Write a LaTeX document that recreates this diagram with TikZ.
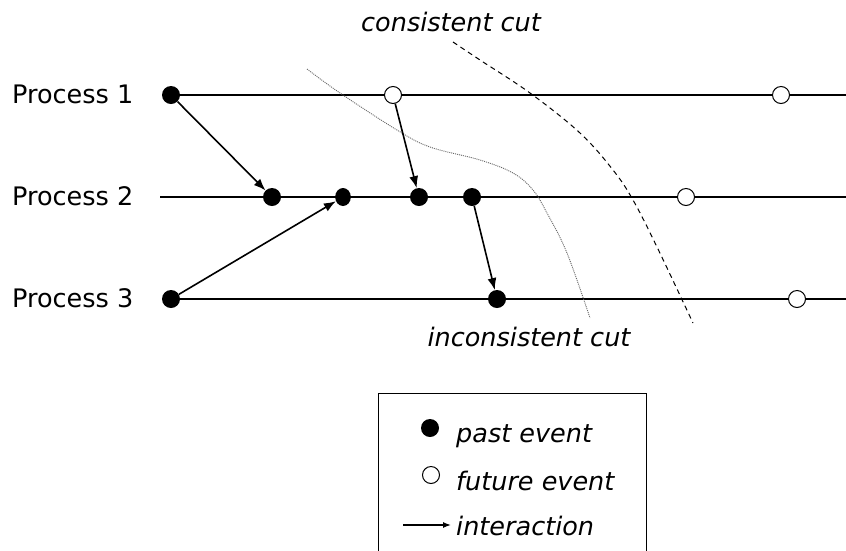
\documentclass[tikz,border=0pt]{standalone}
\usepackage{fontspec}
\setmainfont{DejaVu Sans}
\usetikzlibrary{arrows.meta}
\begin{document}
\begin{tikzpicture}[x=1pt,y=-1pt,
  timeline/.style={line width=1.3pt},
  past/.style={circle, fill=black, inner sep=0pt, minimum size=18pt},
  pastnarrow/.style={past, xscale=0.87},
  future/.style={circle, draw=black, line width=1pt, fill=white, inner sep=0pt, minimum size=17pt},
  msg/.style={line width=1.6pt, -{Latex[length=12pt,width=9pt]}},
  proclabel/.style={anchor=base west, inner sep=0pt, font=\fontsize{25.5}{30}\selectfont},
  cutlabel/.style={inner sep=0pt, font=\fontsize{25.5}{30}\selectfont\itshape},
  legendtext/.style={anchor=base west, inner sep=0pt, font=\fontsize{25.5}{30}\selectfont\itshape},
  consistentcut/.style={line width=1pt, dash pattern=on 5pt off 4pt},
  inconsistentcut/.style={line width=0.9pt, gray!80!black, dash pattern=on 1pt off 1pt}
]
\useasboundingbox (0,0) rectangle (846,550);

% process labels
\node[proclabel] (lab1) at (12,103) {Process 1};
\node[proclabel] (lab2) at (12,205) {Process 2};
\node[proclabel] (lab3) at (12,307) {Process 3};

% time lines
\coordinate (s1) at (171,95);  \coordinate (e1) at (846,95);
\coordinate (s2) at (160,197); \coordinate (e2) at (846,197);
\coordinate (s3) at (171,299); \coordinate (e3) at (846,299);
\draw[timeline] (s1) -- (e1);
\draw[timeline] (s2) -- (e2);
\draw[timeline] (s3) -- (e3);

% cuts
\draw[inconsistentcut] plot[smooth, tension=0.6] coordinates
  {(307,69) (340,93) (397,130) (430,147) (480,160) (513,173) (533,190) (547,213) (567,253) (590,318)};
\draw[consistentcut] plot[smooth, tension=0.6] coordinates
  {(453,42) (480,60) (530,93) (580,133) (613,170) (633,200) (657,247) (693,323)};

\node[cutlabel] (cc) at (451,22) {consistent cut};
\node[cutlabel] (ic) at (529,337) {inconsistent cut};

% events of process 1
\node[past]   (p1a) at (171,95) {};
\node[future] (p1b) at (393,95) {};
\node[future] (p1c) at (781,95) {};
% events of process 2
\node[past]       (p2a) at (272,197) {};
\node[pastnarrow] (p2b) at (343,197) {};
\node[past]       (p2c) at (419,197) {};
\node[past]       (p2d) at (472,197) {};
\node[future]     (p2e) at (686,197) {};
% events of process 3
\node[past]   (p3a) at (171,299) {};
\node[past]   (p3b) at (497,299) {};
\node[future] (p3c) at (797,299) {};

% interactions
\draw[msg] (p1a) -- (p2a);
\draw[msg] (p3a) -- (p2b);
\draw[msg] (p1b) -- (p2c);
\draw[msg] (p2d) -- (p3b);

% legend
\coordinate (bl) at (378,551);
\coordinate (tl) at (378,393);
\coordinate (tr) at (646,393);
\coordinate (br) at (646,551);
\draw[line width=1pt] (bl) -- (tl) -- (tr) -- (br);
\node[past]   (kpast) at (430,428) {};
\node[future] (kfut)  at (431,475) {};
\coordinate (ka) at (403,525);
\coordinate (kb) at (451,525);
\draw[line width=1.3pt, -{Latex[length=8pt,width=6pt]}] (ka) -- (kb);
\node[legendtext] (tpast) at (456,442) {past event};
\node[legendtext] (tfut)  at (456,490) {future event};
\node[legendtext] (tint)  at (456,535) {interaction};
\end{tikzpicture}
\end{document}
